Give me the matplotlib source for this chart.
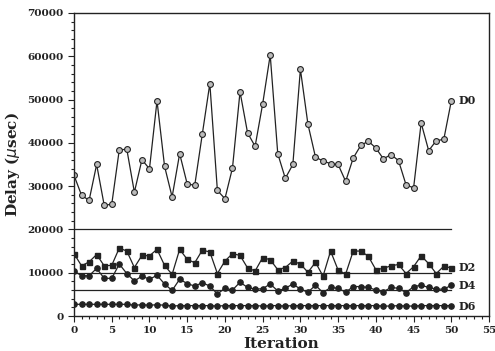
import numpy as np
import matplotlib
matplotlib.use("Agg")
import matplotlib.pyplot as plt
from matplotlib.ticker import MultipleLocator

iters = list(range(51))

d0 = [32500, 27900, 26700, 35000, 25600, 25800, 38400, 38500, 28600, 36100,
      34000, 49700, 34600, 27500, 37500, 30500, 30200, 42000, 53700, 29000,
      27100, 34200, 51800, 42300, 39200, 49000, 60300, 37500, 31800, 35000,
      57000, 44300, 36700, 35800, 35200, 35000, 31100, 36500, 39400, 40400,
      38800, 36300, 37300, 35900, 30300, 29600, 44600, 38200, 40500, 40800,
      49700]
d2 = [14400, 11600, 12500, 14200, 11600, 11700, 15700, 15000, 11200, 14000,
      13900, 15400, 11700, 9600, 15400, 13100, 12300, 15200, 14800, 9800,
      12700, 14400, 14000, 11100, 10400, 13500, 13000, 10700, 11200, 12700,
      12000, 10100, 12400, 9200, 15000, 10600, 9700, 15000, 15000, 13800,
      10700, 11000, 11600, 11900, 9800, 11400, 13900, 12100, 9800, 11500,
      11100]
d4 = [10400, 9300, 9300, 11000, 8700, 8700, 12000, 9800, 8100, 9200,
      8500, 9400, 7400, 5900, 8500, 7500, 6900, 7700, 6900, 5100,
      6400, 6000, 7800, 6600, 6200, 6300, 7400, 5800, 6400, 7400,
      6200, 5500, 7100, 5400, 6600, 6400, 5500, 6800, 6800, 6600,
      6000, 5600, 6600, 6400, 5400, 6800, 7100, 6600, 6200, 6200,
      7100]
d6 = [2700, 2700, 2700, 2700, 2700, 2700, 2700, 2700, 2500, 2600,
      2500, 2600, 2500, 2300, 2400, 2400, 2400, 2400, 2400, 2300,
      2400, 2400, 2400, 2400, 2400, 2300, 2400, 2400, 2300, 2400,
      2400, 2400, 2400, 2400, 2400, 2400, 2400, 2400, 2400, 2400,
      2400, 2300, 2300, 2400, 2300, 2300, 2400, 2400, 2400, 2400,
      2400]
bounds = [20000, 10000, 5900]
names = ["D0", "D2", "D4", "D6"]

ink = "#222222"
fig = plt.figure(figsize=(4.95, 3.51), dpi=100, facecolor="w")
ax = fig.add_axes([0.1495, 0.0997, 0.8385, 0.8633])

for b in bounds:
    ax.plot([0, 50], [b, b], color=ink, lw=0.9)

ax.plot(iters, d0, '-o', color=ink, lw=0.9, ms=4.2, mfc="#bbbbbb", mec=ink, mew=0.8)
ax.plot(iters, d2, '-s', color=ink, lw=0.9, ms=3.6, mfc=ink, mec=ink)
ax.plot(iters, d4, '-o', color=ink, lw=0.9, ms=3.8, mfc=ink, mec=ink)
ax.plot(iters, d6, '-o', color=ink, lw=0.9, ms=3.8, mfc=ink, mec=ink)

lab_y = [d0[-1], d2[-1], d4[-1], d6[-1] - 300]
for n, yv in zip(names, lab_y):
    ax.text(50.9, yv, n, fontsize=8, family="DejaVu Serif", fontweight="bold",
            va="center", ha="left", color=ink)

ax.set_xlim(0, 55)
ax.set_ylim(0, 70000)
ax.xaxis.set_major_locator(MultipleLocator(5))
ax.xaxis.set_minor_locator(MultipleLocator(1))
ax.yaxis.set_major_locator(MultipleLocator(10000))
ax.yaxis.set_minor_locator(MultipleLocator(2000))
ax.tick_params(which="both", direction="out", colors=ink, width=0.8)
ax.tick_params(which="major", length=4, labelsize=7.5)
ax.tick_params(which="minor", length=2.5)
for lbl in ax.get_xticklabels() + ax.get_yticklabels():
    lbl.set_family("DejaVu Serif")
    lbl.set_fontweight("bold")
for s in ax.spines.values():
    s.set_color(ink)
    s.set_linewidth(1.0)

ax.set_xlabel("Iteration", fontsize=11, family="DejaVu Serif", fontweight="bold",
              labelpad=1, color=ink)
ax.set_ylabel("Delay ($\\mu$sec)", fontsize=11, family="DejaVu Serif",
              fontweight="bold", labelpad=4, color=ink)

fig.savefig("out.png", dpi=100)
